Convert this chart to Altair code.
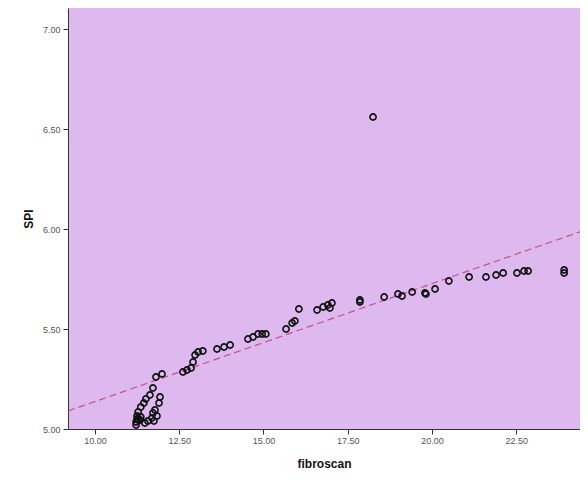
import altair as alt
import pandas as pd

# Scatter points
fibroscan = [
    11.99, 11.81, 11.72, 11.63, 11.51, 11.45, 11.36, 11.28, 11.25, 11.25, 11.22, 11.22,
    11.34, 11.48, 11.57, 11.69, 11.72, 11.78, 11.90, 11.93, 11.75, 11.84, 11.36, 11.28,
    12.61, 12.73, 12.85, 12.91, 12.97, 13.06, 13.20, 13.62, 13.83, 14.01, 14.54, 14.69,
    14.84, 14.96, 15.07,
    15.67, 15.85, 15.93, 16.05, 16.59, 16.77, 16.91, 17.03, 16.97, 17.86, 17.86, 18.58,
    18.99, 19.11, 19.41, 19.79, 19.82, 20.09, 20.50, 21.10, 21.60, 21.90, 22.11, 22.52,
    22.73, 22.85, 23.92, 23.92,
    18.25,
]
spi = [
    5.275, 5.26, 5.205, 5.17, 5.15, 5.13, 5.11, 5.085, 5.065, 5.05, 5.035, 5.02,
    5.045, 5.03, 5.04, 5.055, 5.08, 5.095, 5.13, 5.16, 5.04, 5.065, 5.06, 5.045,
    5.285, 5.295, 5.305, 5.335, 5.37, 5.385, 5.39, 5.40, 5.41, 5.42, 5.45, 5.46,
    5.475, 5.475, 5.475,
    5.50, 5.53, 5.54, 5.60, 5.595, 5.61, 5.62, 5.63, 5.605, 5.635, 5.645, 5.66,
    5.675, 5.665, 5.685, 5.68, 5.675, 5.70, 5.74, 5.76, 5.76, 5.77, 5.78, 5.78,
    5.79, 5.79, 5.795, 5.78,
    6.56,
]

# Fit line end points
fit_x = [9.2, 24.39]
fit_y = [5.09, 5.986]

x_ticks = [10.0, 12.5, 15.0, 17.5, 20.0, 22.5]
y_ticks = [5.0, 5.5, 6.0, 6.5, 7.0]

pts = pd.DataFrame({"fibroscan": fibroscan, "SPI": spi})
fit = pd.DataFrame({"fibroscan": fit_x, "SPI": fit_y})

xscale = alt.Scale(domain=[9.2, 24.39], nice=False, zero=False)
yscale = alt.Scale(domain=[5.0, 7.105], nice=False, zero=False)

xaxis = alt.Axis(values=x_ticks, format=".2f", title="fibroscan", grid=False,
                 domainColor="#333333", tickColor="#333333", tickSize=5,
                 labelFont="Liberation Sans", labelFontSize=9, labelColor="#555555",
                 labelPadding=2, titleFont="Liberation Sans", titleFontSize=12,
                 titleFontWeight="bold", titleColor="#111111", titlePadding=13)
yaxis = alt.Axis(values=y_ticks, format=".2f", title="SPI", grid=False,
                 domainColor="#333333", tickColor="#333333", tickSize=5,
                 labelFont="Liberation Sans", labelFontSize=9, labelColor="#555555",
                 labelPadding=3, titleFont="Liberation Sans", titleFontSize=12,
                 titleFontWeight="bold", titleColor="#111111", titlePadding=7)

line = alt.Chart(fit).mark_line(color="#c4508c", strokeDash=[7, 4], strokeWidth=1.2).encode(
    x=alt.X("fibroscan:Q", scale=xscale, axis=xaxis),
    y=alt.Y("SPI:Q", scale=yscale, axis=yaxis),
)

points = alt.Chart(pts).mark_point(shape="circle", filled=False, color="#111111",
                                   opacity=1, size=38, strokeWidth=1.6).encode(
    x=alt.X("fibroscan:Q", scale=xscale),
    y=alt.Y("SPI:Q", scale=yscale),
)

chart = alt.layer(line, points).properties(
    width=512, height=421,
    autosize=alt.AutoSizeParams(type="none"),
    padding={"left": 60, "top": 0, "right": 0, "bottom": 44},
    background="white",
).configure_view(fill="#ddb9f0", stroke=None)

chart.save("out.html", embed_options={"renderer": "svg", "actions": False})
